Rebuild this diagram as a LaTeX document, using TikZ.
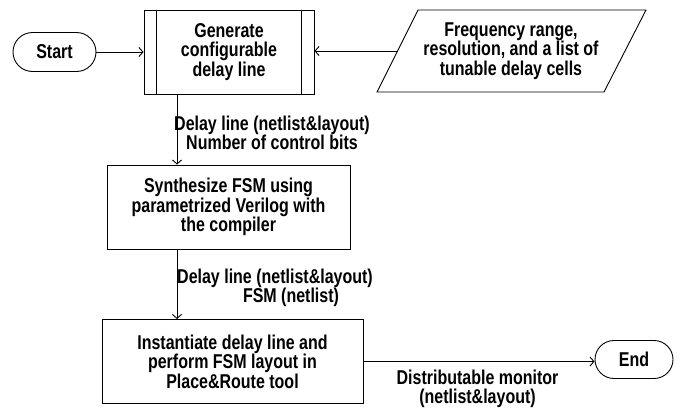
\documentclass[tikz,border=0pt]{standalone}
\usepackage{fontspec}
\setmainfont{Liberation Sans}[FakeStretch=0.8]
\usetikzlibrary{arrows.meta,shapes.misc,calc}
\begin{document}
\begin{tikzpicture}[x=1pt,y=-1pt,
  every node/.style={font=\fontsize{20}{19.5}\selectfont\bfseries, align=center, inner sep=0pt},
  procbox/.style={draw, line width=0.9pt, rectangle},
  termbox/.style={draw, line width=0.9pt, rounded rectangle},
  conn/.style={line width=0.9pt, -{Straight Barb[length=4pt,width=9pt]}},
  plain/.style={line width=0.9pt}]
\useasboundingbox (0,0) rectangle (683,410);
\node[termbox, minimum width=83pt, minimum height=39pt] (start) at (54.5,52) {Start};
\node[procbox, minimum width=170pt, minimum height=84pt] (gen) at (229,52) {Generate\\configurable\\delay line};
\draw[plain] ([xshift=13pt]gen.north west) -- ([xshift=13pt]gen.south west);
\draw[plain] ([xshift=-13pt]gen.north east) -- ([xshift=-13pt]gen.south east);
\node (inp) at (511,51) {Frequency range,\\resolution, and a list of\\tunable delay cells};
\coordinate (pTL) at (418,10);
\coordinate (pTR) at (646,10);
\coordinate (pBR) at (604,92);
\coordinate (pBL) at (377,92);
\draw[plain, line join=miter] (pTL) -- (pTR) -- (pBR) -- (pBL) -- cycle;
\coordinate (pin) at ($(pTL)!0.5!(pBL)$);
\node[procbox, minimum width=243pt, minimum height=84pt] (syn) at (228.5,207) {Synthesize FSM using\\parametrized Verilog with\\the compiler};
\node[procbox, minimum width=261pt, minimum height=84pt] (inst) at (232.5,361.5) {Instantiate delay line and\\perform FSM layout in\\Place\&Route tool};
\node[termbox, minimum width=78pt, minimum height=38pt] (end) at (634,359.5) {End};
\coordinate (vx) at (177,0);
\node (l1) at (272,133) {Delay line (netlist\&layout)\\Number of control bits};
\node (l2) at (275,288) {Delay line (netlist\&layout)\\\hspace*{32pt}FSM (netlist)};
\node (l3) at (477.5,389) {Distributable monitor\\(netlist\&layout)};
\draw[conn] (start.east) -- (gen.west |- start.east);
\draw[conn] (pin) -- (gen.east |- pin);
\draw[conn] (gen.south -| vx) -- (syn.north -| vx);
\draw[conn] (syn.south -| vx) -- (inst.north -| vx);
\draw[conn] (inst.east) -- (inst.east -| end.west);
\end{tikzpicture}
\end{document}
